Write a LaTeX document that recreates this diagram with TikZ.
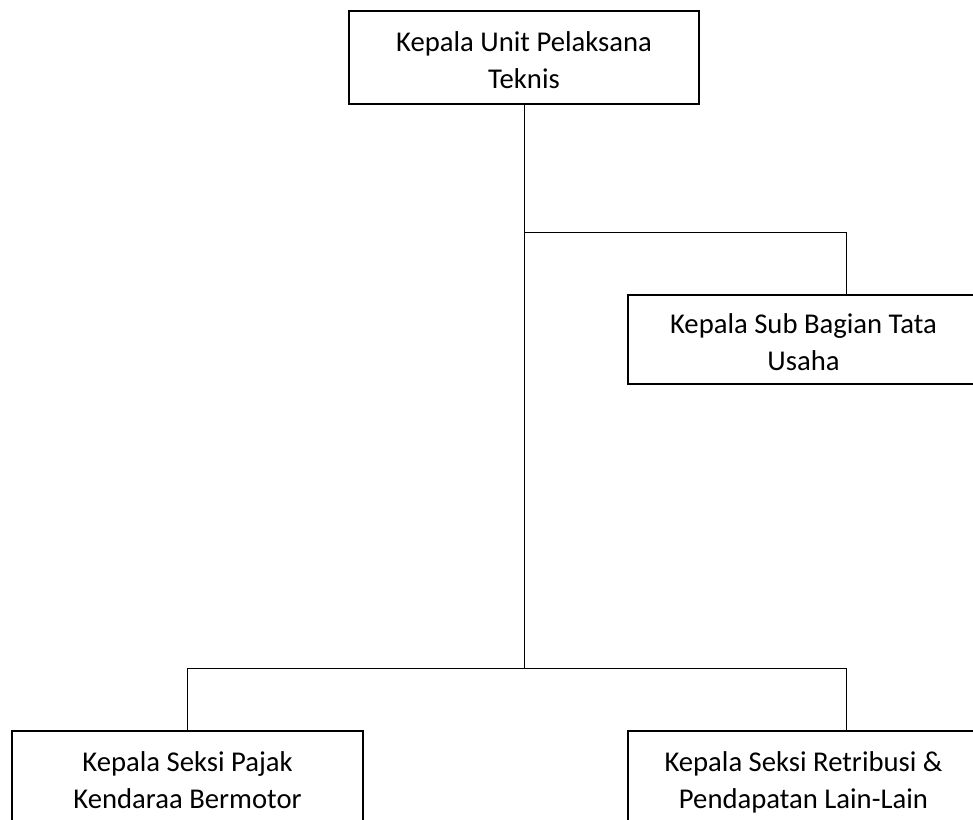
\documentclass[tikz,border=0pt]{standalone}
\usepackage{fontspec}
\setmainfont{Carlito}
\newcommand{\hiline}{\rule{0pt}{24.75pt}}
\newcommand{\loline}{\rule[-6pt]{0pt}{0pt}}
\begin{document}
\begin{tikzpicture}[x=0.75pt, y=-0.75pt,
  unit/.style={draw, line width=1.5pt, anchor=north, inner sep=0pt, minimum width=263pt, minimum height=69.75pt, align=center, font=\fontsize{21.5}{27.75}\selectfont},
  link/.style={line width=0.75pt}]
\useasboundingbox (0,0) rectangle (973,819);
\clip (0,0) rectangle (973,819);

\node[unit] at (524,10)(kupt) {\hiline Kepala Unit Pelaksana\\Teknis\loline};
\node[unit, minimum height=66.75pt] at (803.5,294)(subbag) {\hiline Kepala Sub Bagian Tata\\Usaha\loline};
\node[unit] at (187.5,730)(pajak) {\hiline Kepala Seksi Pajak\\Kendaraa Bermotor\loline};
\node[unit] at (803.5,730)(retribusi) {\hiline Kepala Seksi Retribusi \&\\Pendapatan Lain-Lain\loline};

\coordinate (j1) at (524,232);
\coordinate (s1) at (846,232);
\coordinate (j2) at (524,668);
\coordinate (r1) at (846,668);

\draw[link] (kupt.south) -- (j2);
\draw[link] (j1) -- (s1) -- (s1 |- subbag.north);
\draw[link] (pajak.north) -- (pajak.north |- j2) -- (r1) -- (r1 |- retribusi.north);
\end{tikzpicture}
\end{document}
